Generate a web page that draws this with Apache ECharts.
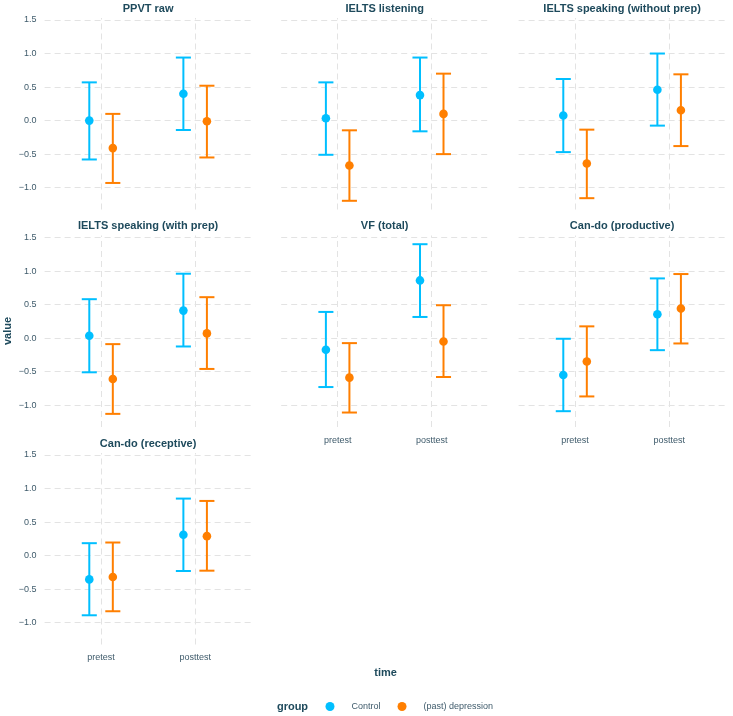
<!DOCTYPE html>
<html>
<head>
<meta charset="utf-8">
<script src="https://cdn.jsdelivr.net/npm/echarts@6/dist/echarts.min.js"></script>
<style>
  html, body { margin: 0; padding: 0; background: #ffffff; }
  #chart { width: 733px; height: 716px; }
</style>
</head>
<body>
<div id="chart"></div>
<script>
// ---- data ----
const panels = ["PPVT raw", "IELTS listening", "IELTS speaking (without prep)",
  "IELTS speaking (with prep)", "VF (total)", "Can-do (productive)", "Can-do (receptive)"];
const times = ["pretest", "posttest"];
const groups = ["Control", "(past) depression"];
const yTicks = [-1.0, -0.5, 0.0, 0.5, 1.0, 1.5];

// [pretest, posttest] per panel
const controlMean  = [[0.00, 0.40], [0.035, 0.38], [0.075, 0.46], [0.035, 0.41], [-0.175, 0.86], [-0.55, 0.355], [-0.355, 0.31]];
const controlLower = [[-0.58, -0.14], [-0.51, -0.16], [-0.47, -0.075], [-0.51, -0.125], [-0.73, 0.315], [-1.09, -0.18], [-0.89, -0.23]];
const controlUpper = [[0.57, 0.94], [0.57, 0.94], [0.62, 1.00], [0.58, 0.96], [0.39, 1.40], [-0.01, 0.89], [0.185, 0.85]];
const depMean  = [[-0.41, -0.01], [-0.67, 0.10], [-0.64, 0.155], [-0.61, 0.07], [-0.59, -0.05], [-0.35, 0.44], [-0.32, 0.29]];
const depLower = [[-0.93, -0.55], [-1.196, -0.50], [-1.157, -0.38], [-1.13, -0.46], [-1.11, -0.58], [-0.87, -0.08], [-0.83, -0.225]];
const depUpper = [[0.10, 0.52], [-0.145, 0.70], [-0.135, 0.69], [-0.09, 0.61], [-0.075, 0.49], [0.175, 0.955], [0.195, 0.815]];

// ---- styling / layout ----
const FONT = "Liberation Sans, Arial, sans-serif";
const colors = ["#00BFFF", "#FF7F00"];
const titleColor = "#1E4A5C";
const tickColor = "#3F5B6B";
const gridColor = "#E3E3E3";
const colLeft = [44.6, 281.2, 518.6];
const rowTop = [18, 235.5, 453];
const panelW = 207, panelH = 191.5;

// y extent like ggplot (5% expansion of data range)
const allLo = controlLower.flat().concat(depLower.flat());
const allHi = controlUpper.flat().concat(depUpper.flat());
const dMin = Math.min(...allLo), dMax = Math.max(...allHi);
const pad = (dMax - dMin) * 0.05;
const yMin = dMin - pad, yMax = dMax + pad;

function fmtY(v) {
  return (v < 0 ? "\u2212" : "") + Math.abs(v).toFixed(1);
}

function makeRender(sign) {
  return function (params, api) {
    const xi = api.value(0), m = api.value(1), lo = api.value(2), hi = api.value(3);
    const unit = api.size([1, 0])[0];
    const pm = api.coord([xi, m]);
    const pl = api.coord([xi, lo]);
    const ph = api.coord([xi, hi]);
    const x = pm[0] + sign * 0.125 * unit;
    const cw = 0.08 * unit;
    const color = api.visual("color");
    const ls = { stroke: color, lineWidth: 2, fill: null };
    return {
      type: "group",
      children: [
        { type: "line", shape: { x1: x, y1: pl[1], x2: x, y2: ph[1] }, style: ls },
        { type: "line", shape: { x1: x - cw, y1: ph[1], x2: x + cw, y2: ph[1] }, style: ls },
        { type: "line", shape: { x1: x - cw, y1: pl[1], x2: x + cw, y2: pl[1] }, style: ls },
        { type: "circle", shape: { cx: x, cy: pm[1], r: 4.3 }, style: { fill: color } }
      ]
    };
  };
}

const grids = [], xAxes = [], yAxes = [], series = [], graphics = [];
panels.forEach((name, i) => {
  const row = Math.floor(i / 3), col = i % 3;
  grids.push({ left: colLeft[col], top: rowTop[row], width: panelW, height: panelH });
  const showX = (i >= 4);
  xAxes.push({
    type: "value", gridIndex: i, min: 0.4, max: 2.6,
    axisLine: { show: false }, axisTick: { show: false }, splitLine: { show: false },
    axisLabel: {
      show: showX, customValues: [1, 2], margin: 9,
      formatter: v => times[Math.round(v) - 1] || "",
      color: tickColor, fontSize: 9, fontFamily: FONT
    }
  });
  yAxes.push({
    type: "value", gridIndex: i, min: yMin, max: yMax,
    axisLine: { show: false }, axisTick: { show: false }, splitLine: { show: false },
    axisLabel: {
      show: col === 0, customValues: yTicks, margin: 8,
      formatter: fmtY, color: tickColor, fontSize: 9, fontFamily: FONT
    }
  });
  // grid lines
  series.push({
    type: "line", xAxisIndex: i, yAxisIndex: i, data: [], silent: true, z: 0, zlevel: 0,
    markLine: {
      silent: true, symbol: "none", animation: false, z: 0,
      label: { show: false },
      lineStyle: { color: gridColor, width: 1, type: [6, 4] },
      data: yTicks.map(v => ({ yAxis: v })).concat(times.map((t, k) => ({ xAxis: k + 1 })))
    }
  });
  const sets = [
    [controlMean, controlLower, controlUpper],
    [depMean, depLower, depUpper]
  ];
  sets.forEach((s, g) => {
    series.push({
      type: "custom", name: groups[g], xAxisIndex: i, yAxisIndex: i, z: 10,
      itemStyle: { color: colors[g] },
      renderItem: makeRender(g === 0 ? -1 : 1),
      data: times.map((t, k) => [k + 1, s[0][i][k], s[1][i][k], s[2][i][k]]),
      animation: false
    });
  });
  graphics.push({
    type: "text",
    x: colLeft[col] + panelW / 2, y: rowTop[row] - 9.5,
    style: {
      text: name, textAlign: "center", textVerticalAlign: "middle",
      font: "bold 11px " + FONT, fill: titleColor
    }
  });
});

// axis titles
graphics.push({
  type: "text", x: 385.6, y: 673,
  style: { text: "time", textAlign: "center", textVerticalAlign: "middle", font: "bold 11px " + FONT, fill: titleColor }
});
graphics.push({
  type: "text", x: 8, y: 331, rotation: Math.PI / 2,
  style: { text: "value", textAlign: "center", textVerticalAlign: "middle", font: "bold 11px " + FONT, fill: titleColor }
});
graphics.push({
  type: "text", x: 292.5, y: 706.5,
  style: { text: "group", textAlign: "center", textVerticalAlign: "middle", font: "bold 11px " + FONT, fill: titleColor }
});

const chart = echarts.init(document.getElementById("chart"), null, { renderer: "canvas" });
chart.setOption({
  animation: false,
  backgroundColor: "#ffffff",
  grid: grids,
  xAxis: xAxes,
  yAxis: yAxes,
  series: series,
  graphic: graphics,
  legend: {
    data: groups.map((g, k) => ({ name: g, itemStyle: { color: colors[k] } })),
    left: 325.5, top: 702, orient: "horizontal", padding: 0,
    icon: "circle", itemWidth: 9, itemHeight: 9, itemGap: 17,
    selectedMode: false,
    textStyle: { fontSize: 9, color: tickColor, fontFamily: FONT, padding: [0, 0, 0, 12] }
  }
});
</script>
</body>
</html>
